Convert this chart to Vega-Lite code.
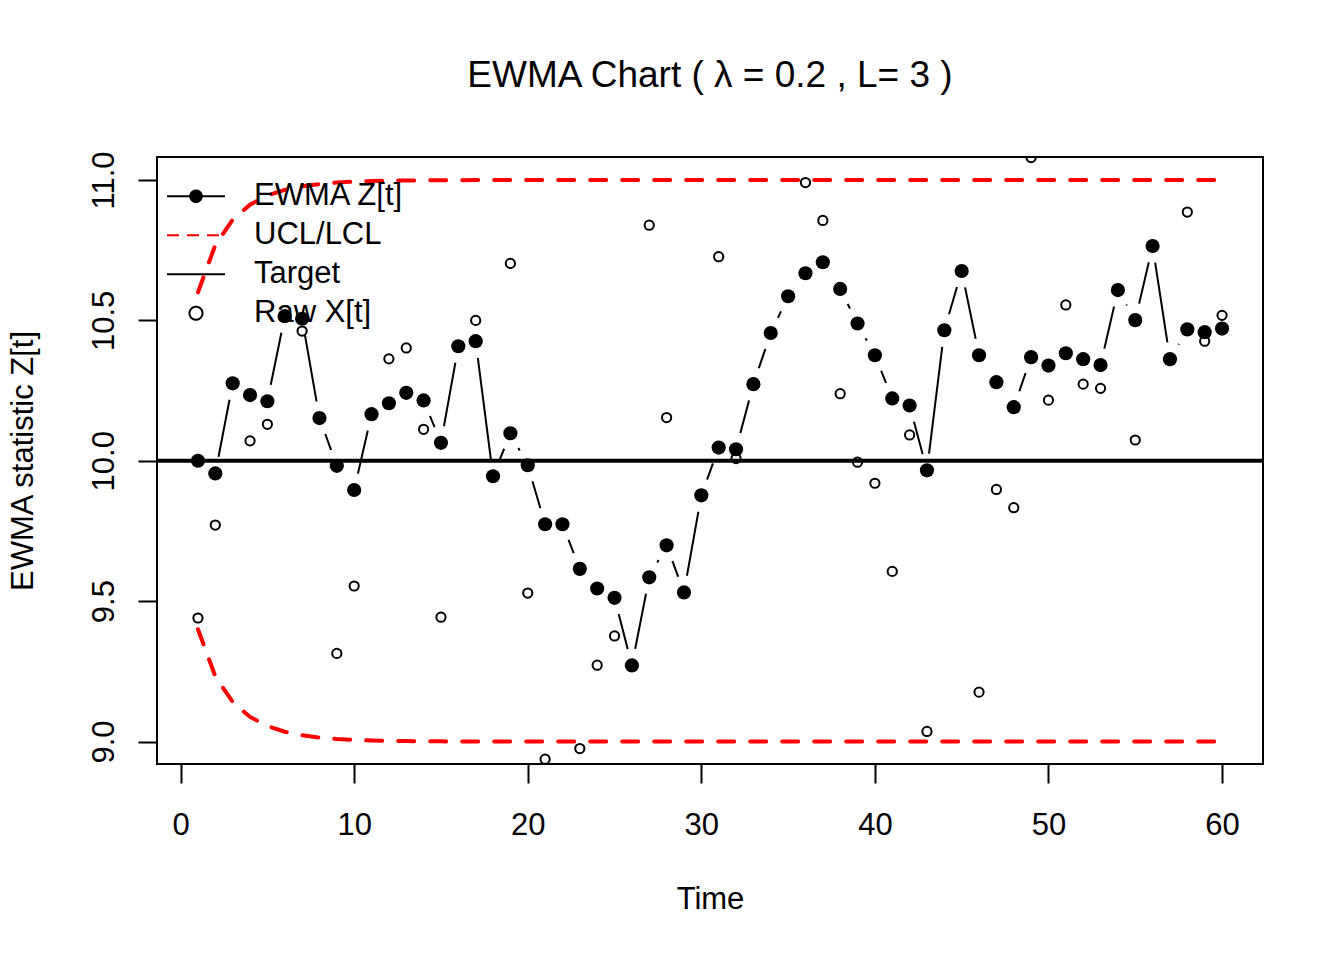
{
  "$schema": "https://vega.github.io/schema/vega-lite/v6.json",
  "width": 1106,
  "height": 607,
  "autosize": {"type": "none"},
  "padding": {"left": 157, "top": 157, "right": 81, "bottom": 196},
  "background": "white",
  "config": {
    "font": "Liberation Sans",
    "view": {"stroke": "black", "strokeWidth": 2},
    "axis": {
      "grid": false,
      "domain": false,
      "tickSize": 19,
      "tickWidth": 2,
      "tickColor": "black",
      "labelFont": "Liberation Sans",
      "labelFontSize": 31,
      "labelColor": "black",
      "labelFlush": false,
      "labelOverlap": false,
      "titleFont": "Liberation Sans",
      "titleFontSize": 31,
      "titleFontWeight": "normal",
      "titleColor": "black"
    }
  },
  "title": {
    "text": "EWMA Chart ( λ = 0.2 , L= 3 )",
    "font": "Liberation Sans",
    "fontSize": 37,
    "fontWeight": "normal",
    "color": "black",
    "anchor": "middle",
    "baseline": "alphabetic",
    "offset": 27
  },
  "datasets": {
    "ewma": [
      {"t": 1, "z": 10.0, "x": 9.44, "ucl": 10.6, "lcl": 9.4},
      {"t": 2, "z": 9.955, "x": 9.771, "ucl": 10.7684, "lcl": 9.2316},
      {"t": 3, "z": 10.276, "x": null, "ucl": 10.859, "lcl": 9.141},
      {"t": 4, "z": 10.234, "x": 10.071, "ucl": 10.9123, "lcl": 9.0877},
      {"t": 5, "z": 10.212, "x": 10.13, "ucl": 10.9448, "lcl": 9.0552},
      {"t": 6, "z": 10.515, "x": null, "ucl": 10.965, "lcl": 9.035},
      {"t": 7, "z": 10.506, "x": 10.462, "ucl": 10.9778, "lcl": 9.0222},
      {"t": 8, "z": 10.152, "x": null, "ucl": 10.9858, "lcl": 9.0142},
      {"t": 9, "z": 9.982, "x": 9.314, "ucl": 10.991, "lcl": 9.009},
      {"t": 10, "z": 9.896, "x": 9.554, "ucl": 10.9942, "lcl": 9.0058},
      {"t": 11, "z": 10.166, "x": null, "ucl": 10.9963, "lcl": 9.0037},
      {"t": 12, "z": 10.205, "x": 10.363, "ucl": 10.9976, "lcl": 9.0024},
      {"t": 13, "z": 10.242, "x": 10.402, "ucl": 10.9985, "lcl": 9.0015},
      {"t": 14, "z": 10.215, "x": 10.112, "ucl": 10.999, "lcl": 9.001},
      {"t": 15, "z": 10.064, "x": 9.443, "ucl": 10.9994, "lcl": 9.0006},
      {"t": 16, "z": 10.408, "x": null, "ucl": 10.9996, "lcl": 9.0004},
      {"t": 17, "z": 10.426, "x": 10.5, "ucl": 10.9997, "lcl": 9.0003},
      {"t": 18, "z": 9.945, "x": null, "ucl": 10.9998, "lcl": 9.0002},
      {"t": 19, "z": 10.098, "x": 10.703, "ucl": 10.9999, "lcl": 9.0001},
      {"t": 20, "z": 9.984, "x": 9.529, "ucl": 11.0, "lcl": 9.0},
      {"t": 21, "z": 9.774, "x": 8.937, "ucl": 11.0, "lcl": 9.0},
      {"t": 22, "z": 9.774, "x": 9.774, "ucl": 11.0, "lcl": 9.0},
      {"t": 23, "z": 9.615, "x": 8.975, "ucl": 11.0, "lcl": 9.0},
      {"t": 24, "z": 9.545, "x": 9.272, "ucl": 11.0, "lcl": 9.0},
      {"t": 25, "z": 9.512, "x": 9.376, "ucl": 11.0, "lcl": 9.0},
      {"t": 26, "z": 9.271, "x": null, "ucl": 11.0, "lcl": 9.0},
      {"t": 27, "z": 9.585, "x": 10.839, "ucl": 11.0, "lcl": 9.0},
      {"t": 28, "z": 9.699, "x": 10.154, "ucl": 11.0, "lcl": 9.0},
      {"t": 29, "z": 9.531, "x": null, "ucl": 11.0, "lcl": 9.0},
      {"t": 30, "z": 9.877, "x": null, "ucl": 11.0, "lcl": 9.0},
      {"t": 31, "z": 10.047, "x": 10.727, "ucl": 11.0, "lcl": 9.0},
      {"t": 32, "z": 10.041, "x": 10.008, "ucl": 11.0, "lcl": 9.0},
      {"t": 33, "z": 10.273, "x": null, "ucl": 11.0, "lcl": 9.0},
      {"t": 34, "z": 10.455, "x": null, "ucl": 11.0, "lcl": 9.0},
      {"t": 35, "z": 10.586, "x": null, "ucl": 11.0, "lcl": 9.0},
      {"t": 36, "z": 10.668, "x": 10.991, "ucl": 11.0, "lcl": 9.0},
      {"t": 37, "z": 10.707, "x": 10.856, "ucl": 11.0, "lcl": 9.0},
      {"t": 38, "z": 10.612, "x": 10.239, "ucl": 11.0, "lcl": 9.0},
      {"t": 39, "z": 10.489, "x": 9.995, "ucl": 11.0, "lcl": 9.0},
      {"t": 40, "z": 10.376, "x": 9.92, "ucl": 11.0, "lcl": 9.0},
      {"t": 41, "z": 10.222, "x": 9.606, "ucl": 11.0, "lcl": 9.0},
      {"t": 42, "z": 10.197, "x": 10.092, "ucl": 11.0, "lcl": 9.0},
      {"t": 43, "z": 9.966, "x": 9.036, "ucl": 11.0, "lcl": 9.0},
      {"t": 44, "z": 10.465, "x": null, "ucl": 11.0, "lcl": 9.0},
      {"t": 45, "z": 10.676, "x": null, "ucl": 11.0, "lcl": 9.0},
      {"t": 46, "z": 10.376, "x": 9.176, "ucl": 11.0, "lcl": 9.0},
      {"t": 47, "z": 10.28, "x": 9.898, "ucl": 11.0, "lcl": 9.0},
      {"t": 48, "z": 10.191, "x": 9.833, "ucl": 11.0, "lcl": 9.0},
      {"t": 49, "z": 10.369, "x": 11.08, "ucl": 11.0, "lcl": 9.0},
      {"t": 50, "z": 10.339, "x": 10.216, "ucl": 11.0, "lcl": 9.0},
      {"t": 51, "z": 10.383, "x": 10.555, "ucl": 11.0, "lcl": 9.0},
      {"t": 52, "z": 10.362, "x": 10.273, "ucl": 11.0, "lcl": 9.0},
      {"t": 53, "z": 10.341, "x": 10.258, "ucl": 11.0, "lcl": 9.0},
      {"t": 54, "z": 10.608, "x": null, "ucl": 11.0, "lcl": 9.0},
      {"t": 55, "z": 10.501, "x": 10.074, "ucl": 11.0, "lcl": 9.0},
      {"t": 56, "z": 10.765, "x": null, "ucl": 11.0, "lcl": 9.0},
      {"t": 57, "z": 10.362, "x": null, "ucl": 11.0, "lcl": 9.0},
      {"t": 58, "z": 10.468, "x": 10.886, "ucl": 11.0, "lcl": 9.0},
      {"t": 59, "z": 10.458, "x": 10.426, "ucl": 11.0, "lcl": 9.0},
      {"t": 60, "z": 10.471, "x": 10.518, "ucl": 11.0, "lcl": 9.0}
    ],
    "keys": [
      {"series": "EWMA Z[t]"},
      {"series": "UCL/LCL"},
      {"series": "Target"},
      {"series": "Raw X[t]"}
    ]
  },
  "data": {"name": "ewma"},
  "layer": [
    {
      "mark": {"type": "line", "color": "black", "strokeWidth": 2},
      "encoding": {
        "x": {
          "field": "t",
          "type": "quantitative",
          "scale": {"domain": [-1.36, 62.36], "nice": false, "zero": false},
          "axis": {
            "values": [0, 10, 20, 30, 40, 50, 60],
            "title": "Time",
            "labelBaseline": "top",
            "labelPadding": 27,
            "titleY": 144,
            "titleBaseline": "alphabetic"
          }
        },
        "y": {
          "field": "z",
          "type": "quantitative",
          "scale": {"domain": [8.92, 11.082], "nice": false, "zero": false},
          "axis": {
            "values": [9, 9.5, 10, 10.5, 11],
            "format": ".1f",
            "title": "EWMA statistic Z[t]",
            "labelAngle": 270,
            "labelAlign": "center",
            "labelBaseline": "alphabetic",
            "labelPadding": 25,
            "titleAngle": 270,
            "titleAlign": "center",
            "titleBaseline": "alphabetic",
            "titleX": -125,
            "titleY": 303.5
          }
        }
      }
    },
    {
      "mark": {"type": "point", "filled": true, "color": "white", "opacity": 1, "size": 1134},
      "encoding": {
        "x": {"field": "t", "type": "quantitative"},
        "y": {"field": "z", "type": "quantitative"}
      }
    },
    {
      "data": {"values": [{"target": 10}]},
      "mark": {"type": "rule", "color": "black", "strokeWidth": 4},
      "encoding": {"y": {"field": "target", "type": "quantitative"}}
    },
    {
      "mark": {"type": "line", "color": "#FF0000", "strokeWidth": 4, "strokeDash": [16, 16], "strokeCap": "round"},
      "encoding": {
        "x": {"field": "t", "type": "quantitative"},
        "y": {"field": "ucl", "type": "quantitative"}
      }
    },
    {
      "mark": {"type": "line", "color": "#FF0000", "strokeWidth": 4, "strokeDash": [16, 16], "strokeCap": "round"},
      "encoding": {
        "x": {"field": "t", "type": "quantitative"},
        "y": {"field": "lcl", "type": "quantitative"}
      }
    },
    {
      "mark": {"type": "point", "filled": true, "color": "black", "opacity": 1, "size": 201},
      "encoding": {
        "x": {"field": "t", "type": "quantitative"},
        "y": {"field": "z", "type": "quantitative"}
      }
    },
    {
      "mark": {"type": "point", "filled": false, "color": "black", "opacity": 1, "size": 85, "strokeWidth": 2, "clip": true},
      "encoding": {
        "x": {"field": "t", "type": "quantitative"},
        "y": {"field": "x", "type": "quantitative"}
      }
    },
    {
      "data": {"name": "keys"},
      "mark": {"type": "point", "opacity": 1, "size": 3364, "strokeWidth": 2, "clip": true},
      "encoding": {
        "x": {"datum": -40},
        "y": {"datum": 10},
        "stroke": {
          "field": "series",
          "type": "nominal",
          "scale": {
            "domain": ["EWMA Z[t]", "UCL/LCL", "Target", "Raw X[t]"],
            "range": ["black", "#FF0000", "black", "black"]
          },
          "legend": {
            "title": null,
            "orient": "none",
            "legendX": 9,
            "legendY": 20,
            "padding": 0,
            "symbolSize": 3364,
            "symbolStrokeWidth": 2,
            "symbolOpacity": 1,
            "clipHeight": 38.5,
            "rowPadding": 0,
            "labelOffset": 28,
            "labelFont": "Liberation Sans",
            "labelFontSize": 31,
            "labelColor": "black",
            "labelBaseline": "middle"
          }
        },
        "fill": {
          "field": "series",
          "type": "nominal",
          "scale": {
            "domain": ["EWMA Z[t]", "UCL/LCL", "Target", "Raw X[t]"],
            "range": ["black", "transparent", "transparent", "transparent"]
          }
        },
        "shape": {
          "field": "series",
          "type": "nominal",
          "scale": {
            "domain": ["EWMA Z[t]", "UCL/LCL", "Target", "Raw X[t]"],
            "range": [
              "M-1,0L1,0M-0.2,0C-0.2,-0.11 -0.11,-0.2 0,-0.2C0.11,-0.2 0.2,-0.11 0.2,0C0.2,0.11 0.11,0.2 0,0.2C-0.11,0.2 -0.2,0.11 -0.2,0Z",
              "M-1,0L1,0",
              "M-1,0L1,0",
              "M-0.224,0C-0.224,-0.124 -0.124,-0.224 0,-0.224C0.124,-0.224 0.224,-0.124 0.224,0C0.224,0.124 0.124,0.224 0,0.224C-0.124,0.224 -0.224,0.124 -0.224,0Z"
            ]
          }
        },
        "strokeDash": {
          "field": "series",
          "type": "nominal",
          "scale": {
            "domain": ["EWMA Z[t]", "UCL/LCL", "Target", "Raw X[t]"],
            "range": [[1, 0], [12, 8], [1, 0], [1, 0]]
          }
        }
      }
    }
  ]
}
